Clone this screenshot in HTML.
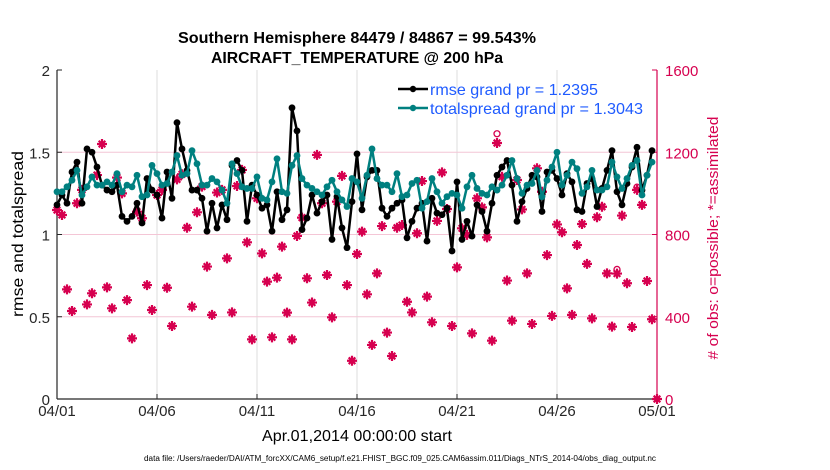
<!DOCTYPE html>
<html><head><meta charset="utf-8"><style>
body{margin:0;background:#fff;}
svg{display:block;font-family:"Liberation Sans",sans-serif;}
</style></head><body>
<svg id="chart" width="830" height="470" viewBox="0 0 830 470">
<rect width="830" height="470" fill="#fff"/>
<g id="grid"></g><g id="axes"></g><g id="scatter"></g><g id="lines"></g>
<text x="357" y="43" text-anchor="middle" font-size="15.5" font-weight="bold" textLength="358" lengthAdjust="spacingAndGlyphs">Southern Hemisphere 84479 / 84867 = 99.543%</text>
<text x="357" y="63" text-anchor="middle" font-size="15.5" font-weight="bold" textLength="292" lengthAdjust="spacingAndGlyphs">AIRCRAFT_TEMPERATURE @ 200 hPa</text>
<text x="357" y="441" text-anchor="middle" font-size="16" textLength="190" lengthAdjust="spacingAndGlyphs">Apr.01,2014 00:00:00 start</text>
<text x="400" y="461" text-anchor="middle" font-size="8" textLength="512" lengthAdjust="spacingAndGlyphs">data file: /Users/raeder/DAI/ATM_forcXX/CAM6_setup/f.e21.FHIST_BGC.f09_025.CAM6assim.011/Diags_NTrS_2014-04/obs_diag_output.nc</text>
<text transform="translate(23,234) rotate(-90)" text-anchor="middle" font-size="16" textLength="166" lengthAdjust="spacingAndGlyphs">rmse and totalspread</text>
<text transform="translate(718,238) rotate(-90)" text-anchor="middle" font-size="15" fill="#d6004f" textLength="243" lengthAdjust="spacingAndGlyphs"># of obs: o=possible; *=assimilated</text>
<g>
<line x1="398" y1="89" x2="428" y2="89" stroke="#000" stroke-width="2.5"/><circle cx="413" cy="89" r="3.2" fill="#000"/>
<text x="430" y="95" font-size="16" fill="#1f5bff" textLength="168" lengthAdjust="spacingAndGlyphs">rmse grand pr = 1.2395</text>
<line x1="398" y1="108" x2="428" y2="108" stroke="#008080" stroke-width="2.5"/><circle cx="413" cy="108" r="3.2" fill="#008080"/>
<text x="430" y="114" font-size="16" fill="#1f5bff" textLength="213" lengthAdjust="spacingAndGlyphs">totalspread grand pr = 1.3043</text>
</g>
</svg>
<script>
const xTickLabels=["04/01","04/06","04/11","04/16","04/21","04/26","05/01"];
const leftTicks=[0,0.5,1,1.5,2];
const rightTicks=[0,400,800,1200,1600];
const rmse=[1.18,1.24,1.19,1.38,1.44,1.19,1.52,1.50,1.41,1.30,1.27,1.26,1.30,1.11,1.08,1.11,1.19,1.07,1.34,1.27,1.24,1.10,1.38,1.22,1.68,1.52,1.39,1.27,1.27,1.22,1.02,1.19,1.04,1.18,1.09,1.42,1.45,1.39,1.08,1.30,
1.24,1.16,1.18,1.02,1.26,1.09,1.15,1.77,1.63,1.03,1.10,1.24,1.13,1.20,1.24,0.97,1.23,1.04,0.92,1.20,1.49,1.15,1.35,1.39,1.39,1.16,1.11,1.16,1.19,1.21,0.98,1.08,1.16,1.19,0.96,1.22,1.13,1.12,1.16,0.90,1.32,
0.97,1.08,0.99,1.18,1.14,1.02,1.19,1.36,1.41,1.45,1.30,1.08,1.20,1.28,1.36,1.35,1.14,1.38,1.39,1.34,1.24,1.37,1.32,1.15,1.14,1.31,1.34,1.17,1.28,1.39,1.51,1.26,1.18,1.31,1.41,1.53,1.27,1.36,1.51];
const totalspread=[1.26,1.26,1.29,1.33,1.39,1.24,1.29,1.35,1.30,1.30,1.32,1.30,1.37,1.26,1.30,1.29,1.36,1.23,1.24,1.42,1.37,1.30,1.31,1.38,1.48,1.36,1.37,1.51,1.43,1.30,1.30,1.34,1.32,1.27,1.19,1.43,1.37,1.29,1.28,1.28,
1.35,1.22,1.21,1.32,1.46,1.26,1.25,1.42,1.48,1.34,1.30,1.28,1.26,1.24,1.29,1.33,1.26,1.21,1.17,1.34,1.32,1.22,1.36,1.52,1.34,1.30,1.30,1.26,1.37,1.23,1.24,1.31,1.33,1.16,1.20,1.34,1.26,1.19,1.23,1.25,1.24,
1.16,1.29,1.36,1.28,1.25,1.24,1.29,1.27,1.30,1.36,1.45,1.34,1.25,1.30,1.31,1.39,1.23,1.33,1.41,1.50,1.30,1.36,1.44,1.40,1.25,1.29,1.39,1.27,1.27,1.29,1.44,1.35,1.28,1.34,1.42,1.45,1.24,1.36,1.44];
const nAssim=[919,895,533,428,952,1017,460,514,1089,1240,543,441,1077,1000,481,295,911,879,554,433,992,1017,541,355,1068,1093,833,449,908,1033,644,409,1004,1017,684,421,1036,1114,762,290,
976,708,571,300,590,741,420,290,793,882,587,469,1187,952,603,397,960,1085,554,186,705,814,509,263,611,841,323,209,833,846,473,421,806,1060,498,373,866,1102,924,355,640,
830,798,319,976,932,786,284,1245,1081,576,381,1065,922,611,365,1122,1008,700,404,849,811,538,409,749,851,657,392,884,935,611,352,610,892,563,350,1017,944,574,388,0];
const nPossible=[919,895,533,428,952,1017,460,514,1089,1240,543,441,1077,1000,481,295,911,879,554,433,992,1017,541,355,1068,1093,833,449,908,1033,644,409,1004,1017,684,421,1036,1114,762,290,
976,708,571,300,590,741,420,290,793,882,587,469,1187,952,603,397,960,1085,554,186,705,814,509,263,611,841,323,209,833,846,473,421,806,1060,498,373,866,1102,924,355,640,
830,798,319,976,932,786,284,1290,1081,576,381,1065,922,611,365,1122,1008,700,404,849,811,538,409,749,851,657,392,884,935,611,352,630,892,563,350,1030,944,574,388,0];
const NS="http://www.w3.org/2000/svg";
const L=57,R=657,T=70,B=399;
const xPos=i=>L+i*(R-L)/120;
const yL=v=>B-v/2*(B-T);
const yR=c=>B-c/1600*(B-T);
function mk(tag,attrs,parent){const e=document.createElementNS(NS,tag);for(const k in attrs)e.setAttribute(k,attrs[k]);parent.appendChild(e);return e;}
const grid=document.getElementById('grid'),axes=document.getElementById('axes'),sc=document.getElementById('scatter'),ln=document.getElementById('lines');
xTickLabels.forEach((t,k)=>{const x=L+k*(R-L)/6;
 if(k>0&&k<6){const g=mk('line',{x1:x,y1:T,x2:x,y2:B,stroke:'#dcdcdc','stroke-width':1},grid);
 
 }
 const tk=mk('line',{x1:x,y1:B,x2:x,y2:B-5,stroke:'#262626'},axes);
 
 
 const tx=mk('text',{x:x,y:B+17,'text-anchor':'middle','font-size':15,fill:'#262626'},axes);tx.textContent=t;
 
 });
rightTicks.forEach(c=>{const y=yR(c);
 if(c>0&&c<1600){const g=mk('line',{x1:L,y1:y,x2:R,y2:y,stroke:'#f4c6d6','stroke-width':1},grid);
 
 }
 const tk=mk('line',{x1:R,y1:y,x2:R-5,y2:y,stroke:'#d6004f'},axes);
 
 
 const tx=mk('text',{x:R+8,y:y+6,'font-size':15,fill:'#d6004f'},axes);tx.textContent=c;
 
 });
leftTicks.forEach(v=>{const y=yL(v);
 const tk=mk('line',{x1:L,y1:y,x2:L+5,y2:y,stroke:'#262626'},axes);
 
 
 const tx=mk('text',{x:L-7,y:y+6,'text-anchor':'end','font-size':15,fill:'#262626'},axes);tx.textContent=v;
 
 });
const ax1=mk('line',{x1:L,y1:T,x2:L,y2:B,stroke:'#262626','stroke-width':1.2},axes);


const ax2=mk('line',{x1:L,y1:B,x2:R,y2:B,stroke:'#262626','stroke-width':1.2},axes);


const ax3=mk('line',{x1:R,y1:T,x2:R,y2:B,stroke:'#d6004f','stroke-width':1.2},axes);


function star(x,y,parent,name){const g=mk('g',{stroke:'#d6004f','stroke-width':2.2,fill:'#d6004f'},parent);
 
 
 mk('path',{d:`M${x-5},${y}H${x+5}M${x},${y-5}V${y+5}M${x-3.3},${y-3.3}L${x+3.3},${y+3.3}M${x-3.3},${y+3.3}L${x+3.3},${y-3.3}`},g);
 mk('circle',{cx:x,cy:y,r:2.2,stroke:'none'},g);}
nPossible.forEach((c,i)=>{if(c!==nAssim[i]){const o=mk('circle',{cx:xPos(i),cy:yR(c),r:3,fill:'none',stroke:'#d6004f','stroke-width':1.3},sc);
 
 }});
nAssim.forEach((c,i)=>star(xPos(i),yR(c),sc,'assimilated-obs-point'));
function series(vals,color,name){
 const p=mk('polyline',{points:vals.map((v,i)=>xPos(i)+','+yL(v)).join(' '),fill:'none',stroke:color,'stroke-width':2.5,'stroke-linejoin':'round'},ln);
 
 
 vals.forEach((v,i)=>{const c=mk('circle',{cx:xPos(i),cy:yL(v),r:3.4,fill:color},ln);
 
 });}
series(rmse,'#000','rmse');
series(totalspread,'#008080','totalspread');
</script>
</body></html>
